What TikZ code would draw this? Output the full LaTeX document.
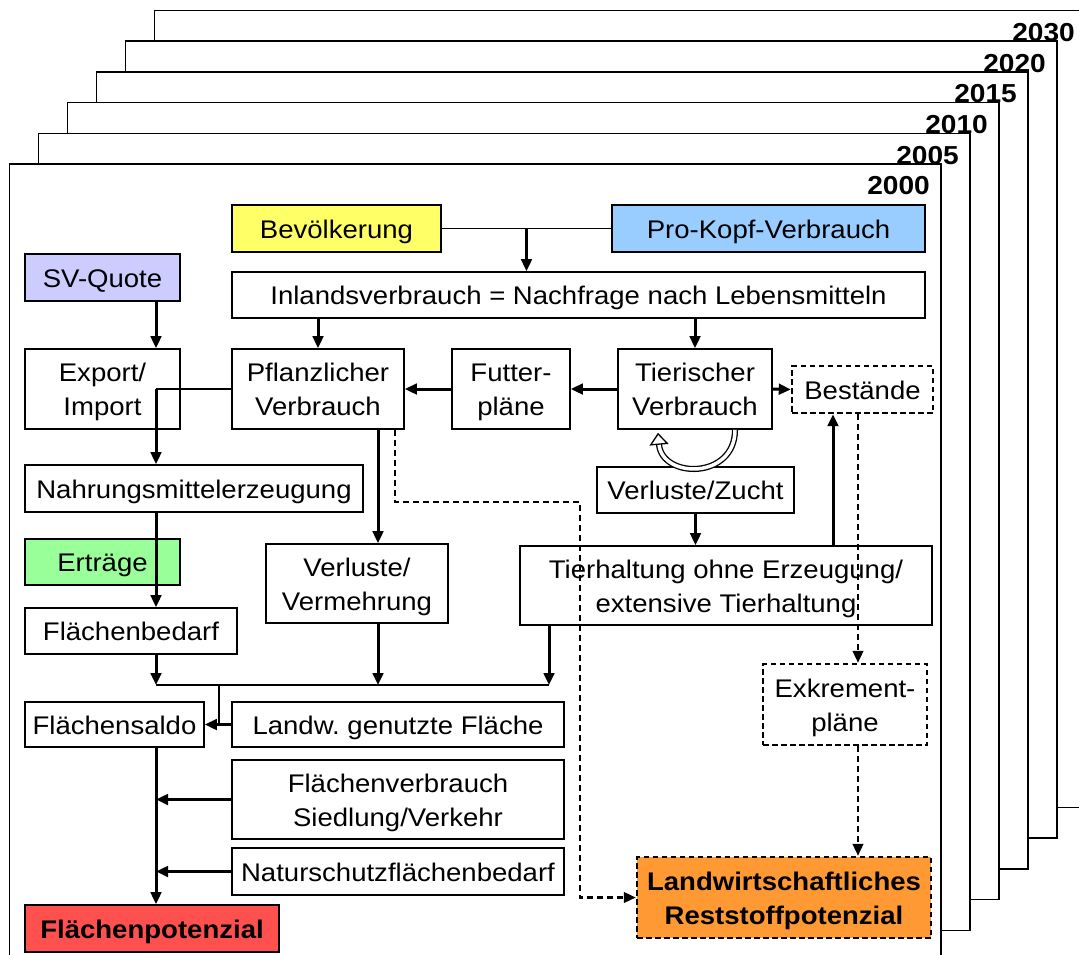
\documentclass[tikz,border=0pt]{standalone}
\usepackage{fontspec}
\setmainfont{Liberation Sans}[FakeStretch=1.08]
\usetikzlibrary{arrows.meta,calc}

\definecolor{bevyellow}{RGB}{255,255,102}
\definecolor{kopfblue}{RGB}{153,204,255}
\definecolor{svlila}{RGB}{204,204,255}
\definecolor{ertgreen}{RGB}{153,255,153}
\definecolor{potred}{RGB}{255,80,80}
\definecolor{restorange}{RGB}{255,153,51}

\tikzset{
  box/.style={draw, line width=1.6pt, fill=white, inner sep=0pt, align=center,
    font=\fontsize{25.5pt}{34pt}\selectfont},
  one/.style={text height=19pt, text depth=0pt},
  two/.style={text height=53pt, text depth=0pt},
  dbox/.style={box, line width=2.4pt, dash pattern=on 5.5pt off 3.5pt},
  sheet/.style={draw, line width=1.5pt, fill=white},
  yearlab/.style={anchor=east, inner sep=0pt, font=\bfseries\fontsize{26pt}{30pt}\selectfont},
  arr/.style={line width=3pt, -{Triangle[length=12pt,width=10.5pt]}},
  thinline/.style={line width=1.5pt},
  dasharr/.style={line width=2.5pt, dash pattern=on 6pt off 4pt, -{Triangle[length=12pt,width=10.5pt]}},
  cycarr/.style={line width=1.3pt, double=white, double distance=3.5pt, -{Triangle[open,length=12pt,width=19pt]}}
}

\begin{document}
\begin{tikzpicture}[x=1pt,y=-1pt]
  \useasboundingbox (0,0) rectangle (1079,954);
  % Stacked year sheets, back to front
  \foreach \k/\yr in {5/2030,4/2020,3/2015,2/2010,1/2005,0/2000}{
    \draw[sheet] (9.6+29*\k,164-30.7*\k) rectangle ++(931.5,797);
    \node[yearlab] (y\yr) at (930+29*\k,186-30.7*\k) {\yr};
  }

  % Demand side
  \node[box, one, fill=bevyellow, minimum width=209pt, minimum height=47pt] (bev) at (336.5,228.5) {Bevölkerung};
  \node[box, one, fill=kopfblue, minimum width=313pt, minimum height=47pt] (pkv) at (768.5,228.5) {Pro-Kopf-Verbrauch};
  \node[box, one, fill=svlila, minimum width=155pt, minimum height=47pt] (svq) at (102.5,277.5) {SV-Quote};
  \node[box, one, minimum width=693pt, minimum height=46pt] (inl) at (578.5,295) {Inlandsverbrauch = Nachfrage nach Lebensmitteln};

  % Consumption
  \node[box, two, minimum width=155pt, minimum height=80pt] (exp) at (102.5,389) {Export/\\Import};
  \node[box, two, minimum width=172pt, minimum height=80pt] (pfl) at (318,389) {Pflanzlicher\\Verbrauch};
  \node[box, two, minimum width=118pt, minimum height=80pt] (fut) at (511,389) {Futter-\\pläne};
  \node[box, two, minimum width=154pt, minimum height=80pt] (tie) at (695,389) {Tierischer\\Verbrauch};
  \node[dbox, one, minimum width=141pt, minimum height=47pt] (bes) at (862.5,389.5) {Bestände};

  % Production
  \node[box, one, minimum width=338pt, minimum height=47pt] (nah) at (194,488.5) {Nahrungsmittelerzeugung};
  \node[box, one, minimum width=197pt, minimum height=46pt] (vzu) at (695.5,490) {Verluste/Zucht};
  \node[box, one, fill=ertgreen, minimum width=155pt, minimum height=46pt] (ert) at (102.5,562) {Erträge};
  \node[box, two, minimum width=182pt, minimum height=79pt] (vvm) at (357,583.5) {Verluste/\\Vermehrung};
  \node[box, two, minimum width=412pt, minimum height=79pt] (thx) at (726,585.5) {Tierhaltung ohne Erzeugung/\\extensive Tierhaltung};

  % Land balance
  \node[box, one, minimum width=212pt, minimum height=46pt] (fbd) at (131,631) {Flächenbedarf};
  \node[box, one, minimum width=179pt, minimum height=45pt] (fsd) at (114.5,724.5) {Flächensaldo};
  \node[box, one, minimum width=332pt, minimum height=45pt] (lgf) at (398,724.5) {Landw.\ genutzte Fläche};
  \node[box, two, minimum width=332pt, minimum height=79pt] (fvb) at (398,799.5) {Flächenverbrauch\\Siedlung/Verkehr};
  \node[box, one, minimum width=332pt, minimum height=47pt] (nsf) at (398,871.5) {Naturschutzflächenbedarf};
  \node[dbox, two, minimum width=164pt, minimum height=81pt] (exk) at (845,704.5) {Exkrement-\\pläne};

  % Results
  \node[box, one, fill=potred, font=\bfseries\fontsize{25.5pt}{34pt}\selectfont, minimum width=254pt, minimum height=47pt] (fpt) at (152,928.5) {Flächenpotenzial};
  \node[dbox, two, fill=restorange, font=\bfseries\fontsize{25.5pt}{34pt}\selectfont, minimum width=294pt, minimum height=81pt] (lrp) at (784,897.5) {Landwirtschaftliches\\Reststoffpotenzial};

  % Columns for the connectors
  \coordinate (colx) at (156,0);
  \coordinate (colb) at (378,0);
  \coordinate (colc) at (833,0);
  \coordinate (cold) at (858,0);
  \coordinate (cole) at (549,0);
  \coordinate (colf) at (219,0);
  \coordinate (jn) at (0,685);
  \coordinate (dsa) at (395,502);
  \coordinate (dsb) at (580,502);

  % Connectors
  \draw[thinline] (bev.east) -- (pkv.west);
  \draw[arr] ($(bev.east)!.5!(pkv.west)$) coordinate (bp) -- (bp |- inl.north);
  \draw[arr] (inl.south -| pfl.north) -- (pfl.north);
  \draw[arr] (inl.south -| tie.north) -- (tie.north);
  \draw[arr] (svq.south -| colx) -- (exp.north -| colx);
  \draw[thinline] (pfl.west) -- (pfl.west -| colx);
  \draw[arr] (pfl.west -| colx) -- (nah.north -| colx);
  \draw[arr] (nah.south -| colx) -- (fbd.north -| colx);
  \draw[arr] (pfl.south -| colb) -- (vvm.north -| colb);
  \draw[arr] (fut.west) -- (pfl.east);
  \draw[arr] (tie.west) -- (fut.east);
  \draw[arr] (tie.east) -- (bes.west);
  \draw[cycarr] ([xshift=40pt]tie.south) .. controls +(0,50) and +(4,46) .. ([xshift=-37pt,yshift=-3pt]tie.south);
  \draw[arr] (vzu.south) -- (vzu.south |- thx.north);
  \draw[arr] (thx.north -| colc) -- (bes.south -| colc);
  \draw[arr] (fbd.south -| colx) -- (jn -| colx);
  \draw[arr] (vvm.south -| colb) -- (jn -| colb);
  \draw[arr] (thx.south -| cole) -- (jn -| cole);
  \draw[thinline] (jn -| colx) -- (jn -| cole);
  \draw[thinline] (jn -| colf) -- (colf |- fsd.east);
  \draw[arr] (lgf.west) -- (fsd.east);
  \draw[arr] (fsd.south -| colx) -- (fpt.north -| colx);
  \draw[arr] (fvb.west) -- (fvb.west -| colx);
  \draw[arr] (nsf.west) -- (nsf.west -| colx);
  % Residue paths
  \draw[dasharr] (pfl.south -| dsa) |- (dsb) |- (lrp.west);
  \draw[dasharr] (bes.south -| cold) -- (exk.north -| cold);
  \draw[dasharr] (exk.south -| cold) -- (lrp.north -| cold);
\end{tikzpicture}
\end{document}
